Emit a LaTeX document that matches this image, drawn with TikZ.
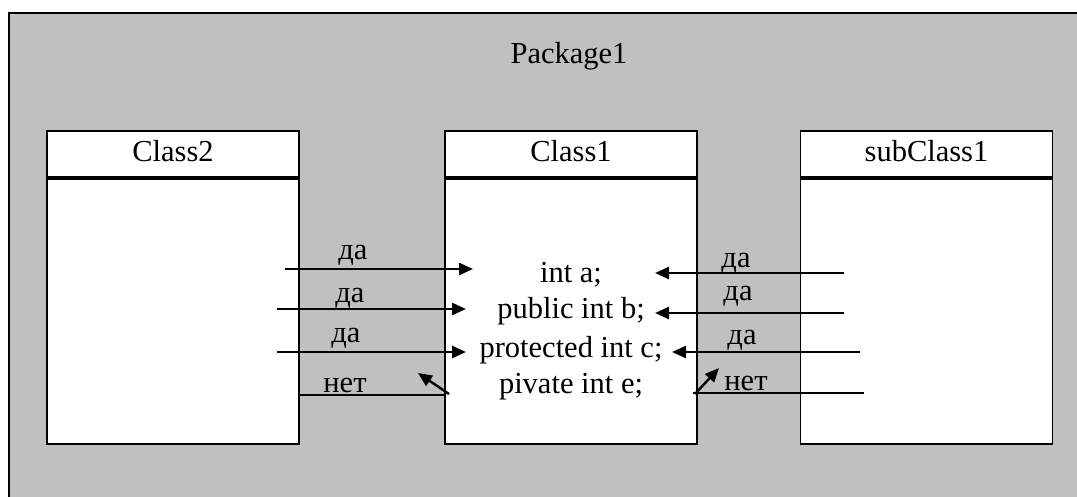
\documentclass[tikz,border=0pt]{standalone}
\usepackage{fontspec}
\setmainfont{Liberation Serif}
\usetikzlibrary{arrows.meta}
\definecolor{pkggray}{HTML}{C0C0C0}
\begin{document}
\begin{tikzpicture}[x=1pt,y=-1pt,
  txt/.style={font=\fontsize{30.5}{35}\selectfont, inner sep=0pt},
  lbl/.style={txt, anchor=base},
  hdr/.style={draw, line width=1.8pt, fill=white, rectangle, inner sep=0pt,
    minimum width=252pt, minimum height=46pt, text height=20pt, text depth=6pt,
    font=\fontsize{30.5}{35}\selectfont},
  body/.style={draw, line width=1.8pt, fill=white, rectangle, inner sep=0pt,
    minimum width=252pt, minimum height=265pt, anchor=north},
  arr/.style={line width=2.4pt, -{Triangle[length=14pt,width=12pt]}},
  plain/.style={line width=2pt}]
\useasboundingbox (0,0) rectangle (1077,496);
\fill[white] (0,0) rectangle (1077,496);
\draw[line width=2pt, fill=pkggray] (9,13) rectangle (1095,515);
\node[lbl] (pkg) at (569,63) {Package1};

% classes
\node[hdr] (c2h) at (173,154) {Class2};
\node[body] (c2b) at (c2h.south) {};
\node[hdr] (c1h) at (571,154) {Class1};
\node[body] (c1b) at (c1h.south) {};
\node[hdr] (sch) at (926.5,154) {subClass1};
\node[body] (scb) at (sch.south) {};

% attributes
\node[lbl] (aa) at (571,282) {int a;};
\node[lbl] (ab) at (571,318) {public int b;};
\node[lbl] (ac) at (571,357) {protected int c;};
\node[lbl] (ae) at (571,393) {pivate int e;};

% left side connectors
\coordinate (l1s) at (285,269); \coordinate (l1e) at (473,269);
\coordinate (l2s) at (277,309); \coordinate (l2e) at (466,309);
\coordinate (l3s) at (277,352); \coordinate (l3e) at (466,352);
\coordinate (l4s) at (299,395); \coordinate (l4e) at (446,395);
\coordinate (l5s) at (449,394); \coordinate (l5e) at (418,373);
\draw[arr] (l1s) -- (l1e);
\draw[arr] (l2s) -- (l2e);
\draw[arr] (l3s) -- (l3e);
\draw[plain] (l4s) -- (l4e);
\draw[arr] (l5s) -- (l5e);
\node[lbl] (ly1) at (353,259) {да};
\node[lbl] (ly2) at (350,302) {да};
\node[lbl] (ly3) at (346,342) {да};
\node[lbl] (ln4) at (345,392) {нет};

% right side connectors
\coordinate (r1s) at (844,273); \coordinate (r1e) at (655,273);
\coordinate (r2s) at (844,313); \coordinate (r2e) at (655,313);
\coordinate (r3s) at (860,352); \coordinate (r3e) at (672,352);
\coordinate (r4s) at (693,393); \coordinate (r4e) at (864,393);
\coordinate (r5s) at (695,394); \coordinate (r5e) at (719,368);
\draw[arr] (r1s) -- (r1e);
\draw[arr] (r2s) -- (r2e);
\draw[arr] (r3s) -- (r3e);
\draw[plain] (r4s) -- (r4e);
\draw[arr] (r5s) -- (r5e);
\node[lbl] (ry1) at (736,267) {да};
\node[lbl] (ry2) at (738,300) {да};
\node[lbl] (ry3) at (742,344) {да};
\node[lbl] (rn4) at (746,390) {нет};
\end{tikzpicture}
\end{document}
